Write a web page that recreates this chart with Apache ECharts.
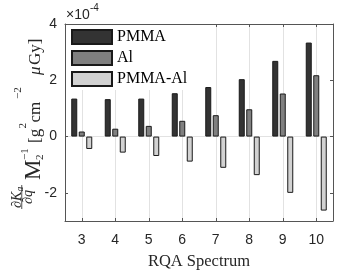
<!DOCTYPE html>
<html><head><meta charset="utf-8">
<script src="https://cdn.jsdelivr.net/npm/echarts@6/dist/echarts.min.js"></script>
<style>html,body{margin:0;padding:0;background:#fff}#c{width:350px;height:275px}</style>
</head><body><div id="c"></div>
<script>
const categories = ['3','4','5','6','7','8','9','10'];
const pmma = [1.35, 1.33, 1.35, 1.54, 1.76, 2.04, 2.69, 3.34];
const al = [0.18, 0.28, 0.38, 0.56, 0.76, 0.97, 1.53, 2.18];
const pmmaAl = [-0.44, -0.57, -0.69, -0.89, -1.11, -1.37, -2.00, -2.63];
const yTicks = [-2, 0, 2, 4];
const seriesNames = ['PMMA', 'Al', 'PMMA-Al'];
const colors = ['#333333', '#808080', '#d2d2d2'];

const chart = echarts.init(document.getElementById('c'), null, {renderer: 'canvas'});
const axisCol = '#555555';
const serifName = '"Liberation Serif", "DejaVu Serif", serif';
const sansName = '"Liberation Sans", Arial, sans-serif';
const gridCol = '#e2e2e2';
const txt = '#262626';

function barSeries(name, data, color) {
  return {
    name: name, type: 'bar', data: data, barWidth: 6, barGap: '25%',
    itemStyle: {color: color, borderColor: '#1a1a1a', borderWidth: 1},
    emphasis: {disabled: true}, animation: false
  };
}
function t(text, x, y, size, italic) {
  return {type: 'text', style: {text: text, x: x, y: y, font: (italic ? 'italic ' : '') + size + 'px ' + serifName,
    fill: txt, verticalAlign: 'bottom', textVerticalAlign: 'bottom'}};
}

chart.setOption({
  animation: false,
  grid: {left: 65, top: 24, right: 17, bottom: 46, containLabel: false},
  legend: {
    orient: 'vertical', left: 66, top: 25, padding: [4, 6, 3, 5],
    itemWidth: 40, itemHeight: 14, itemGap: 5, icon: 'rect',
    backgroundColor: '#ffffff',
    textStyle: {fontFamily: serifName, fontSize: 16, color: '#000'},
    data: seriesNames
  },
  xAxis: [{
    type: 'category', data: categories, boundaryGap: true, position: 'bottom',
    axisLine: {show: true, onZero: false, lineStyle: {color: axisCol, width: 1}},
    axisTick: {show: true, inside: true, alignWithLabel: true, length: 3, lineStyle: {color: axisCol}},
    axisLabel: {fontFamily: sansName, fontSize: 14, color: txt, margin: 12},
    splitLine: {show: true, alignWithLabel: true, lineStyle: {color: gridCol, width: 1}},
    name: 'RQA Spectrum', nameLocation: 'middle', nameGap: 32,
    nameTextStyle: {fontFamily: serifName, fontSize: 16.5, color: txt}
  }, {
    type: 'category', data: categories, boundaryGap: true, position: 'top',
    axisLine: {show: true, onZero: false, lineStyle: {color: axisCol, width: 1}},
    axisTick: {show: true, inside: true, alignWithLabel: true, length: 3, lineStyle: {color: axisCol}},
    axisLabel: {show: false}, splitLine: {show: false}
  }],
  yAxis: [{
    type: 'value', min: -3, max: 4, interval: 1,
    axisLine: {show: true, lineStyle: {color: axisCol, width: 1}},
    axisTick: {show: true, inside: true, length: 3, customValues: yTicks, lineStyle: {color: axisCol}},
    axisLabel: {customValues: yTicks, fontFamily: sansName, fontSize: 14, color: txt, margin: 8},
    splitLine: {show: true, lineStyle: {color: ['rgba(0,0,0,0)', gridCol, 'rgba(0,0,0,0)', '#262626', 'rgba(0,0,0,0)', gridCol, 'rgba(0,0,0,0)', 'rgba(0,0,0,0)'], width: 1}}
  }, {
    type: 'value', min: -3, max: 4, interval: 1, position: 'right',
    axisLine: {show: true, lineStyle: {color: axisCol, width: 1}},
    axisTick: {show: true, inside: true, length: 3, customValues: yTicks, lineStyle: {color: axisCol}},
    axisLabel: {show: false}, splitLine: {show: false}
  }],
  series: [
    barSeries(seriesNames[0], pmma, colors[0]),
    barSeries(seriesNames[1], al, colors[1]),
    barSeries(seriesNames[2], pmmaAl, colors[2])
  ],
  graphic: [
    {type: 'text', x: 66, y: 22, z: 10, style: {text: '×10', font: '14px ' + sansName, fill: txt, verticalAlign: 'bottom', textVerticalAlign: 'bottom'}},
    {type: 'text', x: 90, y: 13, z: 10, style: {text: '-4', font: '10px ' + sansName, fill: txt, verticalAlign: 'bottom', textVerticalAlign: 'bottom'}},
    {
      type: 'group', x: 41, y: 125, rotation: Math.PI / 2, z: 10,
      children: [
        t('∂K', -83, -17, 14, true),
        t('a', -66.5, -16, 9.5, true),
        {type: 'rect', shape: {x: -84, y: -19.6, width: 24, height: 0.8}, style: {fill: txt}},
        t('∂q', -79, -5.8, 14, true),
        t('M', -55, 4.6, 23, false),
        t('−1', -35, -10.8, 11, false),
        t('2', -35, 4.2, 11, false),
        t('[g', -18, 3.4, 17, false),
        t('2', -3.5, -12.8, 11, false),
        t('cm', 2.5, 3.4, 17, false),
        t('−2', 26, -17, 11, false),
        t('μ', 50, 3.4, 17, true),
        t('Gy]', 60, 3.4, 17, false)
      ]
    }
  ]
});
</script></body></html>
